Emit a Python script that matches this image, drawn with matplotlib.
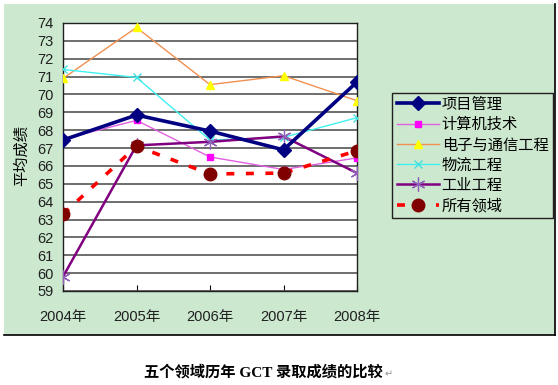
import matplotlib
matplotlib.use('Agg')
import matplotlib.pyplot as plt
from matplotlib.patches import Rectangle
from matplotlib.lines import Line2D

plt.rcParams['font.family'] = ['Liberation Sans', 'Noto Sans CJK SC', 'DejaVu Sans']

# Data
years = ['2004年', '2005年', '2006年', '2007年', '2008年']
xmgl = [67.45, 68.85, 67.95, 66.9, 70.7]      # 项目管理
jsj = [67.5, 68.55, 66.5, 65.8, 66.45]        # 计算机技术
dztx = [70.9, 73.75, 70.55, 71.05, 69.65]     # 电子与通信工程
wl = [71.4, 70.95, 67.45, 67.6, 68.7]         # 物流工程
gy = [59.8, 67.15, 67.35, 67.65, 65.6]        # 工业工程
all_fields = [63.3, 67.1, 65.55, 65.6, 66.85] # 所有领域
yticks = list(range(59, 75))

W, H = 558, 385
fig = plt.figure(figsize=(W / 100, H / 100), dpi=100)
fig.patch.set_facecolor('white')

# green chart panel
green = '#CCE8CF'
fig.patches.append(Rectangle((4 / W, (H - 335) / H), 551 / W, 331 / H,
                             transform=fig.transFigure, facecolor=green,
                             edgecolor='none', zorder=-10))
fig.lines.append(Line2D([4 / W, 555 / W], [(H - 335) / H] * 2, transform=fig.transFigure,
                        color='black', lw=1.2, zorder=-5))
fig.lines.append(Line2D([555 / W] * 2, [(H - 335) / H, (H - 4) / H], transform=fig.transFigure,
                        color='black', lw=1.2, zorder=-5))

ax = fig.add_axes([63 / W, (H - 291) / H, 294 / W, 268 / H])
ax.set_facecolor('white')
x = range(len(years))

ax.plot(x, xmgl, color='#000080', lw=2.6, marker='D', ms=7, mfc='#000080', mec='#000080',
        label='项目管理', zorder=6)
ax.plot(x, jsj, color='#E060E0', lw=1.0, marker='s', ms=5, mfc='#FF00FF', mec='#FF00FF',
        label='计算机技术', zorder=4)
ax.plot(x, dztx, color='#F09050', lw=1.0, marker='^', ms=6, mfc='#FFFF00', mec='#FFFF00',
        label='电子与通信工程', zorder=4)
ax.plot(x, wl, color='#40F0F0', lw=1.0, marker='x', ms=6, mec='#40E0E0', mew=1.0,
        label='物流工程', zorder=4)
ax.plot(x, gy, color='#800080', lw=1.8, marker=(6, 2, 0), ms=10, mec='#9060B8', mew=0.9,
        label='工业工程', zorder=5)
ax.plot(x, all_fields, color='#FF0000', lw=2.6, ls=(0, (2.2, 3.2)), marker='o', ms=9,
        mfc='#800000', mec='#800000', label='所有领域', zorder=5)

ax.set_xlim(0, 4)
ax.set_ylim(59, 74)
ax.set_yticks(yticks)
ax.set_xticks(list(x))
ax.set_xticklabels(years)
ax.yaxis.grid(True, color='#555555', lw=1.2)
ax.set_axisbelow(True)
for s in ax.spines.values():
    s.set_color('#202020')
    s.set_linewidth(1.0)
ax.tick_params(axis='y', length=0, pad=7, labelsize=10.5, labelcolor='#202020')
ax.tick_params(axis='x', direction='in', length=4, pad=14, labelsize=10.5, labelcolor='#202020')

fig.text(22 / W, (H - 156) / H, '平均成绩', rotation=90, ha='center', va='center', fontsize=11)

leg = ax.legend(loc='upper left', bbox_to_anchor=(392 / W, (H - 93) / H),
                bbox_transform=fig.transFigure, borderaxespad=0, fontsize=11,
                frameon=True, fancybox=False, facecolor=green, edgecolor='#202020',
                handlelength=2.8, handletextpad=0.15, labelspacing=0.4, borderpad=0.3,
                numpoints=1)
leg.get_frame().set_linewidth(1.0)
leg.get_frame().set_alpha(None)

fig.text(263 / W, (H - 372) / H, '五个领域历年 GCT 录取成绩的比较', ha='center', va='center',
         fontsize=11, fontweight='bold', family=['Liberation Serif', 'Noto Sans CJK SC'])
fig.text(385 / W, (H - 374) / H, '↵', ha='left', va='center', fontsize=7, color='#909090',
         family=['DejaVu Sans'])

fig.savefig('out.png', dpi=100, facecolor='white')
